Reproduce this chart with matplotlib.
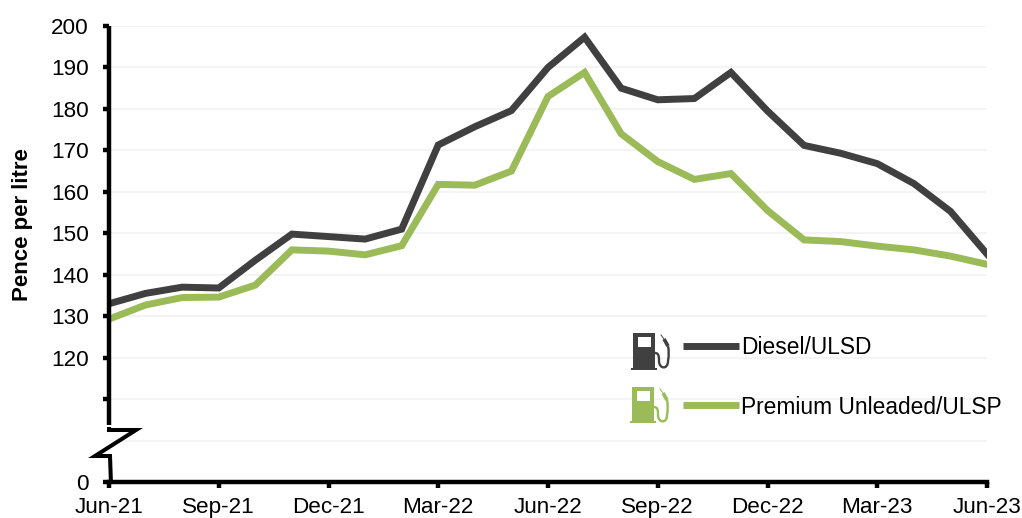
import matplotlib
matplotlib.use("Agg")
import matplotlib.pyplot as plt
from matplotlib.lines import Line2D
from matplotlib.patches import Rectangle, PathPatch
from matplotlib.path import Path

plt.rcParams['font.family'] = ['Liberation Sans', 'DejaVu Sans']

W, H = 1022, 518

# monthly prices, Jun-21 to Jun-23
months = list(range(25))
diesel = [133, 135.5, 137, 136.8, 143.5, 149.8, 149.2, 148.6, 151, 171.3, 175.7, 179.6, 190,
          197.3, 185, 182.2, 182.5, 188.8, 179.5, 171.2, 169.3, 166.8, 162, 155.3, 145]
premium = [129.3, 132.7, 134.5, 134.6, 137.5, 146, 145.7, 144.8, 147, 161.8, 161.6, 165, 183,
           188.8, 174, 167.3, 163, 164.4, 155.5, 148.4, 148, 146.9, 146, 144.5, 142.5]
xtick_pos = [0, 3, 6, 9, 12, 15, 18, 21, 24]
xtick_labels = ['Jun-21', 'Sep-21', 'Dec-21', 'Mar-22', 'Jun-22', 'Sep-22', 'Dec-22', 'Mar-23', 'Jun-23']
ytick_pos = [90, 100, 110, 120, 130, 140, 150, 160, 170, 180, 190, 200]
ytick_labels = ['0', '', '', '120', '130', '140', '150', '160', '170', '180', '190', '200']

DARK = '#404040'
GREEN = '#9BBB59'


def px(x, y):  # image pixels to figure fraction
    return x / W, 1 - y / H


fig = plt.figure(figsize=(W / 100, H / 100), dpi=100)
left, top = px(109, 26)
right, bottom = px(987, 482)
ax = fig.add_axes([left, bottom, right - left, top - bottom])

ax.plot(months, premium, color=GREEN, lw=5, solid_joinstyle='miter', zorder=3)
ax.plot(months, diesel, color=DARK, lw=5, solid_joinstyle='miter', zorder=4)

ax.set_xlim(0, 24)
ax.set_ylim(90, 200)
ax.set_xticks(xtick_pos, xtick_labels)
ax.set_yticks(ytick_pos, ytick_labels)
ax.grid(axis='y', color='#F2F2F2', lw=1.2)
ax.set_axisbelow(True)
ax.tick_params(axis='both', length=4.5, width=3.2, color='black', labelsize=16.2)
ax.tick_params(axis='y', pad=10)
ax.tick_params(axis='x', pad=6)
ax.yaxis.get_major_ticks()[1].tick1line.set_visible(False)

for s in ['top', 'right', 'left']:
    ax.spines[s].set_visible(False)
ax.spines['bottom'].set_linewidth(3.2)

ax.set_ylabel('Pence per litre', fontsize=16, fontweight='bold')
ax.yaxis.set_label_coords(*px(33, 225), transform=fig.transFigure)


def fig_line(points, color='black', lw=3.2, **kw):
    xs, ys = zip(*[px(*p) for p in points])
    fig.add_artist(Line2D(xs, ys, color=color, lw=lw, transform=fig.transFigure, **kw))


# broken y axis
fig_line([(109, 26), (109, 425)], solid_capstyle='butt')
fig_line([(109, 427), (109, 430), (136, 430), (95, 456), (110, 456), (111, 484)],
         lw=2.9, solid_joinstyle='miter', solid_capstyle='butt')


def pump(x0, y0, h, color):
    # body, base, window and hose of the fuel pump icon
    fx, fy = px(x0, y0 + h)
    fig.add_artist(Rectangle((fx, fy), 22 / W, h / H, color=color, transform=fig.transFigure, lw=0))
    bx, by = px(x0 - 2, y0 + h + 1)
    fig.add_artist(Rectangle((bx, by), 26 / W, 2.5 / H, color=color, transform=fig.transFigure, lw=0))
    wx, wy = px(x0 + 5, y0 + 4)
    fig.add_artist(Rectangle((wx, wy - 10 / H), 13 / W, 10 / H, color='white', transform=fig.transFigure, lw=0))
    verts = [px(x0 + 22, y0 + 20), px(x0 + 26, y0 + 20), px(x0 + 26, y0 + 24), px(x0 + 26, y0 + 28),
             px(x0 + 26, y0 + 36), px(x0 + 35, y0 + 37), px(x0 + 35, y0 + 28),
             px(x0 + 36, y0 + 22), px(x0 + 36, y0 + 18), px(x0 + 35, y0 + 13)]
    codes = [Path.MOVETO] + [Path.CURVE4] * (len(verts) - 1)
    fig.add_artist(PathPatch(Path(verts, codes), fill=False, ec=color, lw=1.7,
                             transform=fig.transFigure))
    fig_line([(x0 + 35, y0 + 13), (x0 + 31, y0 + 6)], color=color, lw=2.6, solid_capstyle='butt')
    fig_line([(x0 + 31, y0 + 6), (x0 + 28, y0 + 2)], color=color, lw=0.7)


pump(633, 333, 36, DARK)
pump(632, 387, 35, GREEN)

# legend
fig_line([(683, 345.5), (739, 345.5)], color=DARK, lw=5, solid_capstyle='butt')
fig_line([(683, 405), (739, 405)], color=GREEN, lw=5, solid_capstyle='butt')
tx, ty = px(741, 347)
fig.text(tx, ty, 'Diesel/ULSD', fontsize=16.4, va='center', color='black')
tx, ty = px(741, 407)
fig.text(tx, ty, 'Premium Unleaded/ULSP', fontsize=16.4, va='center', color='black')

fig.savefig('out.png', dpi=100)
